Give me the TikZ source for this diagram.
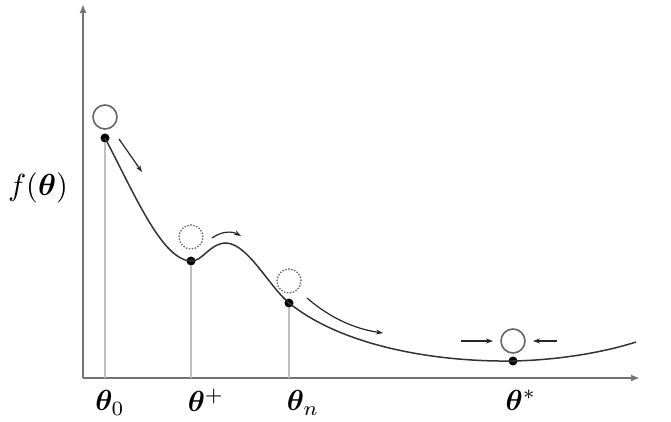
\documentclass[tikz,border=0pt]{standalone}
\usepackage{bm}
\usetikzlibrary{arrows.meta}
\begin{document}
\begin{tikzpicture}[x=1pt,y=-1pt,
  axis/.style={draw=black!55,line width=2.2pt,-{Latex[length=9pt,width=7pt]}},
  guide/.style={draw=black!25,line width=1.6pt},
  curve/.style={draw=black!80,line width=1.5pt},
  dot/.style={circle,fill=black,inner sep=0pt,minimum size=9pt},
  ball/.style={circle,draw=black!60,line width=1.6pt,inner sep=0pt,minimum size=24pt},
  ghost/.style={circle,draw=black!60,line width=1.3pt,dash pattern=on 1.5pt off 1.5pt,inner sep=0pt,minimum size=24pt},
  mv/.style={draw=black!85,line width=1.2pt,-{Stealth[length=7pt,width=5pt]}},
  lbl/.style={scale=2.9,inner sep=0pt}]
\useasboundingbox (0,0) rectangle (671,422);
% axes
\coordinate (O) at (83,378);
\coordinate (ytop) at (83,4);
\coordinate (xend) at (640,378);
\draw[axis] (O) -- (ytop);
\draw[axis] (O) -- (xend);
% points
\node[dot] (p0) at (105,138) {};
\node[dot] (pp) at (191,261) {};
\node[dot] (pn) at (289,303) {};
\node[dot] (ps) at (513,361) {};
\coordinate (a0) at (105,378);
\coordinate (ap) at (191,378);
\coordinate (an) at (289,378);
\coordinate (as) at (513,378);
\draw[guide] (p0) -- (a0);
\draw[guide] (pp) -- (ap);
\draw[guide] (pn) -- (an);
% curve
\coordinate (e) at (636,342);
\draw[curve] (p0.center) .. controls (135,195) and (162,260) .. (pp.center)
  .. controls (202,262) and (210,243) .. (226,243)
  .. controls (248,244) and (268,285) .. (pn.center)
  .. controls (345,348) and (440,362) .. (ps.center)
  .. controls (560,360) and (605,352) .. (e);
% balls
\node[ball] (b0) at (105,117) {};
\node[ghost] (bp) at (191,237) {};
\node[ghost] (bn) at (289,281) {};
\node[ball] (bs) at (513,341) {};
% motion arrows
\coordinate (m0a) at (119,139); \coordinate (m0b) at (142,172);
\draw[mv] (m0a) -- (m0b);
\coordinate (mpa) at (212,238); \coordinate (mpb) at (241,236);
\draw[mv] (mpa) .. controls (222,231) and (232,231) .. (mpb);
\coordinate (mna) at (307,298); \coordinate (mnb) at (383,333);
\draw[mv] (mna) .. controls (330,318) and (355,329) .. (mnb);
\coordinate (msa) at (461,341); \coordinate (msb) at (493,341);
\draw[mv] (msa) -- (msb);
\coordinate (mta) at (557,341); \coordinate (mtb) at (533,341);
\draw[mv] (mta) -- (mtb);
% labels
\node[lbl,scale=1.05] (fl) at (38,188) {$f(\bm{\theta})$};
\node[lbl] (l0) at (110,403) {$\bm{\theta}_0$};
\node[lbl] (lp) at (206,400) {$\bm{\theta}^+$};
\node[lbl] (ln) at (303,403) {$\bm{\theta}_n$};
\node[lbl] (ls) at (521,400) {$\bm{\theta}^*$};
\end{tikzpicture}
\end{document}
